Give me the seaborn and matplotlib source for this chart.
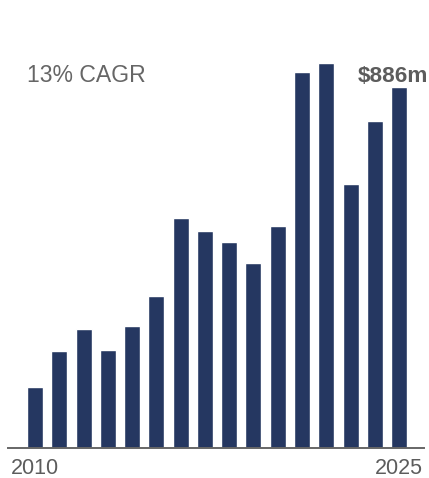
import numpy as np
import pandas as pd
import seaborn as sns
import matplotlib
matplotlib.use('Agg')
import matplotlib.pyplot as plt

# valores ($m por ano)
years = [str(y) for y in range(2010, 2026)]
values = [148, 237, 291, 239, 299, 373, 563, 531, 506, 454, 545, 923, 945, 647, 802, 886]
first_label = "2010"
last_label = "2025"
cagr_text = "13% CAGR"
last_value_text = "$886m"

bar_color = "#253761"
text_color = "#5c5c5c"

sns.set_theme(style="white")
plt.rcParams['font.family'] = ['Liberation Sans', 'DejaVu Sans']

df = pd.DataFrame({"year": years, "value": values})

fig = plt.figure(figsize=(4.29, 4.78), dpi=100)
# eixo ocupa a largura toda; base das barras em y=447.5px
ax = fig.add_axes([0, (478 - 447.5) / 478, 1, 447.5 / 478])

sns.barplot(data=df, x="year", y="value", color=bar_color, saturation=1,
            width=0.66, ax=ax)

step = 24.27
ax.set_xlim(-35 / step, (429 - 35) / step)
ax.set_ylim(0, 447.5 * 886 / 360.5)

for s in ['top', 'right', 'left']:
    ax.spines[s].set_visible(False)
ax.spines['bottom'].set_color("#666666")
ax.spines['bottom'].set_linewidth(1.4)
ax.spines['bottom'].set_bounds((8 - 35) / step, (424 - 35) / step)

ax.set_yticks([])
ax.set_xticks([0, len(years) - 1])
ax.set_xticklabels([first_label, last_label], fontsize=15.5, color=text_color)
ax.tick_params(axis='x', length=0, pad=7.5)
ax.set_xlabel("")
ax.set_ylabel("")
ax.set_facecolor("white")

fig.text(27.5 / 429, 1 - 81.7 / 478, cagr_text, fontsize=16.6,
         color="#666666", ha='left', va='baseline')
fig.text(428 / 429, 1 - 81.7 / 478, last_value_text, fontsize=16.2,
         fontweight='bold', color=text_color, ha='right', va='baseline')

plt.savefig("out.png", dpi=100)
plt.close()
